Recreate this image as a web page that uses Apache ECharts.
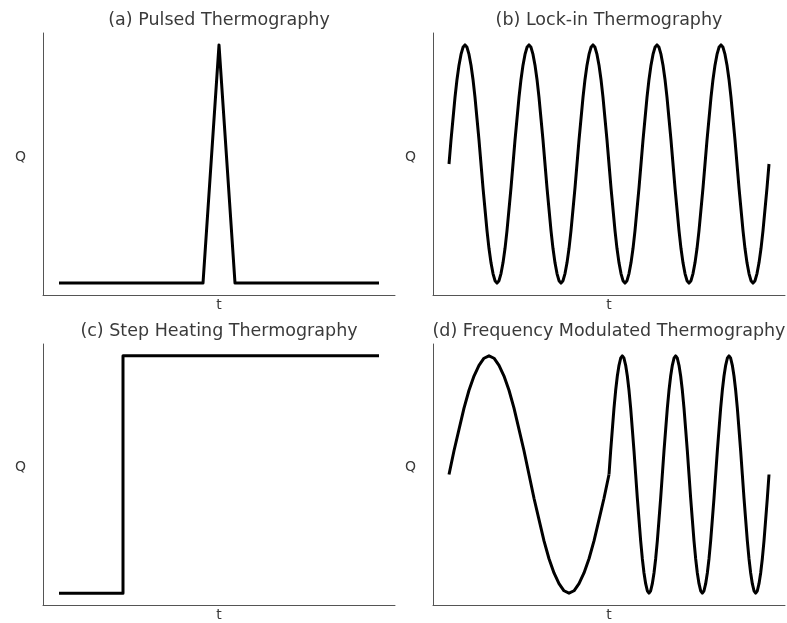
<!DOCTYPE html>
<html>
<head>
<meta charset="utf-8">
<script src="https://cdn.jsdelivr.net/npm/echarts@6/dist/echarts.min.js"></script>
<style>
  html, body { margin: 0; padding: 0; background: #fff; }
  #chart { width: 787px; height: 623px; }
</style>
</head>
<body>
<div id="chart"></div>
<script>
// heat input Q over time t, four excitation schemes

const titles = [
    "(a) Pulsed Thermography",
    "(b) Lock-in Thermography",
    "(c) Step Heating Thermography",
    "(d) Frequency Modulated Thermography"
];

// one period of the drawn wave, read every 1/32 period (0 .. 31/32)
const wave = [
    0, 0.20, 0.38, 0.56, 0.71, 0.83, 0.92, 0.98,
    1, 0.98, 0.92, 0.83, 0.71, 0.56, 0.38, 0.20,
    0, -0.20, -0.38, -0.56, -0.71, -0.83, -0.92, -0.98,
    -1, -0.98, -0.92, -0.83, -0.71, -0.56, -0.38, -0.20
];

// (a) short triangular pulse
const tPulse = [0, 4.5, 5, 5.5, 10];
const qPulse = [0, 0, 1, 0, 0];

// (b) steady sine: 5 periods over t = 0..10
const lockPeriods = 5, lockStart = 0, lockEnd = 10;

// (c) step on at t = 2
const tStep = [0, 2, 2, 10];
const qStep = [0, 0, 1, 1];

// (d) one slow period over 0..5, then three fast periods over 5..10
const slowPeriods = 1, slowStart = 0, slowEnd = 5;
const fastPeriods = 3, fastStart = 5, fastEnd = 10;

const pairs = (xs, ys) => xs.map((x, i) => [x, ys[i]]);

// lay the read period out over [t0, t1] n times
function waveData(n, t0, t1) {
    const out = [];
    const m = wave.length;
    const dt = (t1 - t0) / (n * m);
    for (let k = 0; k < n; k++) {
        wave.forEach((q, j) => out.push([t0 + (k * m + j) * dt, q]));
    }
    out.push([t1, wave[0]]);
    return out;
}

const chart = echarts.init(document.getElementById("chart"));

const panels = [
    { left: 43, top: 33, ymin: -0.05, ymax: 1.05 },
    { left: 433, top: 33, ymin: -1.1, ymax: 1.1 },
    { left: 43, top: 344, ymin: -0.05, ymax: 1.05 },
    { left: 433, top: 344, ymin: -1.1, ymax: 1.1 }
];
const W = 352, H = 262;
const axisColor = "#555";
const textColor = "#3a3a3a";
const font = "DejaVu Sans";

const lineSeries = (idx, data) => ({
    type: "line",
    xAxisIndex: idx,
    yAxisIndex: idx,
    data: data,
    showSymbol: false,
    animation: false,
    lineStyle: { color: "#000", width: 3, join: "round" }
});

chart.setOption({
    backgroundColor: "#fff",
    textStyle: { fontFamily: font },
    title: panels.map((p, i) => ({
        text: titles[i],
        left: p.left + W / 2,
        top: p.top - 22,
        padding: 0,
        textAlign: "center",
        textStyle: { color: textColor, fontSize: 17.5, fontWeight: "normal", fontFamily: font }
    })),
    grid: panels.map(p => ({ left: p.left, top: p.top, width: W, height: H })),
    xAxis: panels.map((p, i) => ({
        type: "value",
        gridIndex: i,
        min: -0.5,
        max: 10.5,
        name: "t",
        nameLocation: "middle",
        nameGap: 3,
        nameTextStyle: { color: textColor, fontSize: 14, verticalAlign: "top" },
        axisLine: { onZero: false, lineStyle: { color: axisColor, width: 1 } },
        axisTick: { show: false },
        axisLabel: { show: false },
        splitLine: { show: false }
    })),
    yAxis: panels.map((p, i) => ({
        type: "value",
        gridIndex: i,
        min: p.ymin,
        max: p.ymax,
        name: "Q",
        nameLocation: "middle",
        nameRotate: 0,
        nameGap: 17,
        nameTextStyle: { color: textColor, fontSize: 14, verticalAlign: "bottom" },
        axisLine: { show: true, onZero: false, lineStyle: { color: axisColor, width: 1 } },
        axisTick: { show: false },
        axisLabel: { show: false },
        splitLine: { show: false }
    })),
    series: [
        lineSeries(0, pairs(tPulse, qPulse)),
        lineSeries(1, waveData(lockPeriods, lockStart, lockEnd)),
        lineSeries(2, pairs(tStep, qStep)),
        lineSeries(3, waveData(slowPeriods, slowStart, slowEnd)),
        lineSeries(3, waveData(fastPeriods, fastStart, fastEnd))
    ]
});

window.addEventListener("resize", () => chart.resize());
</script>
</body>
</html>
